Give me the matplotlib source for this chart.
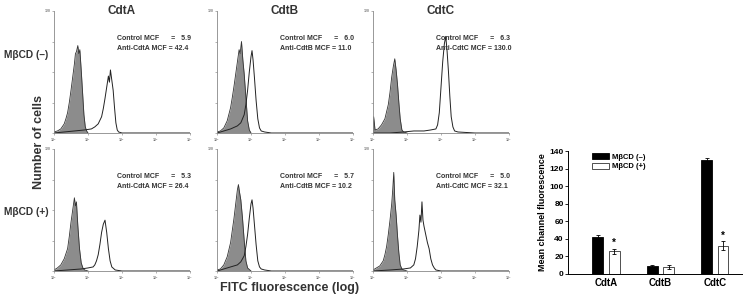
import numpy as np
import matplotlib.pyplot as plt

plt.rcParams['font.family'] = ['Liberation Sans', 'DejaVu Sans']
plt.rcParams['font.weight'] = 'bold'

# histogram curves: x in log10 decades, y = cell counts
ctrl_x_A1 = [0.0, 0.1, 0.2, 0.3, 0.35, 0.4, 0.45, 0.5, 0.55, 0.6, 0.63, 0.66, 0.7, 0.73, 0.76, 0.8, 0.84, 0.88, 0.92, 0.96, 1.0]
ctrl_y_A1 = [1, 2, 4, 9, 14, 20, 30, 42, 55, 68, 78, 80, 86, 78, 82, 62, 40, 18, 6, 2, 0]
anti_x_A1 = [0.0, 0.3, 0.6, 0.9, 1.1, 1.2, 1.3, 1.4, 1.45, 1.5, 1.55, 1.6, 1.63, 1.66, 1.7, 1.74, 1.78, 1.82, 1.86, 1.9, 2.0, 3.0, 4.0]
anti_y_A1 = [0, 1, 2, 3, 4, 6, 9, 16, 24, 34, 45, 56, 50, 62, 52, 42, 25, 10, 3, 1, 0, 0, 0]

ctrl_x_A2 = [0.0, 0.1, 0.2, 0.3, 0.4, 0.45, 0.5, 0.55, 0.6, 0.63, 0.66, 0.7, 0.75, 0.8, 0.85, 0.9, 1.0]
ctrl_y_A2 = [1, 3, 6, 12, 22, 34, 48, 60, 72, 64, 68, 45, 22, 8, 3, 1, 0]
anti_x_A2 = [0.0, 0.4, 0.8, 1.0, 1.15, 1.2, 1.25, 1.3, 1.35, 1.4, 1.45, 1.5, 1.55, 1.6, 1.65, 1.7, 1.8, 2.0, 3.0, 4.0]
anti_y_A2 = [0, 1, 2, 3, 4, 6, 10, 16, 26, 38, 46, 50, 38, 22, 10, 4, 1, 0, 0, 0]

ctrl_x_B1 = [0.0, 0.1, 0.2, 0.3, 0.4, 0.45, 0.5, 0.55, 0.6, 0.65, 0.68, 0.72, 0.76, 0.8, 0.85, 0.9, 0.95, 1.0]
ctrl_y_B1 = [1, 2, 5, 12, 25, 35, 46, 58, 70, 82, 78, 90, 72, 58, 35, 12, 3, 0]
anti_x_B1 = [0.0, 0.2, 0.4, 0.6, 0.7, 0.8, 0.85, 0.9, 0.95, 1.0, 1.03, 1.06, 1.1, 1.15, 1.2, 1.25, 1.3, 1.4, 1.6, 2.0, 4.0]
anti_y_B1 = [0, 2, 4, 7, 10, 18, 28, 42, 60, 75, 81, 72, 55, 32, 14, 5, 2, 1, 0, 0, 0]

ctrl_x_B2 = [0.0, 0.1, 0.2, 0.3, 0.4, 0.45, 0.5, 0.55, 0.6, 0.63, 0.66, 0.7, 0.75, 0.8, 0.85, 0.9, 1.0]
ctrl_y_B2 = [1, 2, 6, 14, 28, 40, 52, 66, 80, 85, 78, 70, 52, 30, 10, 3, 0]
anti_x_B2 = [0.0, 0.2, 0.4, 0.6, 0.7, 0.8, 0.85, 0.9, 0.95, 1.0, 1.03, 1.06, 1.1, 1.15, 1.2, 1.25, 1.3, 1.4, 1.6, 2.0, 4.0]
anti_y_B2 = [0, 2, 4, 6, 9, 15, 24, 36, 52, 66, 70, 62, 46, 26, 10, 4, 2, 1, 0, 0, 0]

ctrl_x_C1 = [0.0, 0.02, 0.06, 0.15, 0.25, 0.35, 0.45, 0.5, 0.55, 0.6, 0.64, 0.68, 0.72, 0.76, 0.8, 0.85, 0.9, 1.0]
ctrl_y_C1 = [0, 16, 3, 4, 8, 14, 28, 40, 55, 66, 73, 62, 48, 30, 14, 3, 1, 0]
anti_x_C1 = [0.0, 0.5, 0.9, 1.2, 1.5, 1.7, 1.85, 1.9, 1.95, 2.0, 2.05, 2.1, 2.14, 2.18, 2.22, 2.26, 2.3, 2.35, 2.4, 2.5, 3.0, 4.0]
anti_y_C1 = [0, 0, 1, 2, 2, 3, 4, 8, 20, 45, 70, 88, 95, 80, 60, 36, 16, 6, 2, 1, 0, 0]

ctrl_x_C2 = [0.0, 0.1, 0.2, 0.3, 0.35, 0.4, 0.45, 0.5, 0.55, 0.58, 0.61, 0.64, 0.68, 0.72, 0.76, 0.8, 0.85, 0.9, 1.0]
ctrl_y_C2 = [1, 3, 5, 10, 16, 24, 36, 50, 66, 80, 97, 70, 55, 35, 18, 6, 2, 1, 0]
anti_x_C2 = [0.0, 0.5, 0.9, 1.1, 1.2, 1.25, 1.3, 1.35, 1.38, 1.41, 1.44, 1.47, 1.5, 1.55, 1.6, 1.65, 1.7, 1.75, 1.8, 1.85, 2.0, 4.0]
anti_y_C2 = [0, 1, 2, 3, 6, 12, 24, 40, 55, 48, 68, 50, 44, 36, 28, 22, 12, 6, 3, 1, 0, 0]

mcf_ctrl = [['5.9', '6.0', '6.3'], ['5.3', '5.7', '5.0']]
mcf_anti = [['42.4', '11.0', '130.0'], ['26.4', '10.2', '32.1']]
proteins = ['CdtA', 'CdtB', 'CdtC']
rows = ['M\u03b2CD (\u2013)', 'M\u03b2CD (+)']

# bar chart
bar_cats = ['CdtA', 'CdtB', 'CdtC']
mcf_neg = [42, 9, 130]
mcf_neg_err = [2, 1, 2]
mcf_pos = [26, 8, 32]
mcf_pos_err = [3, 2, 5]

curves = [
    [(ctrl_x_A1, ctrl_y_A1, anti_x_A1, anti_y_A1),
     (ctrl_x_B1, ctrl_y_B1, anti_x_B1, anti_y_B1),
     (ctrl_x_C1, ctrl_y_C1, anti_x_C1, anti_y_C1)],
    [(ctrl_x_A2, ctrl_y_A2, anti_x_A2, anti_y_A2),
     (ctrl_x_B2, ctrl_y_B2, anti_x_B2, anti_y_B2),
     (ctrl_x_C2, ctrl_y_C2, anti_x_C2, anti_y_C2)],
]

W, H = 744, 295
fig = plt.figure(figsize=(W / 100, H / 100), dpi=100)


def rect(x0, y0, x1, y1):
    return [x0 / W, 1 - y1 / H, (x1 - x0) / W, (y1 - y0) / H]


lefts = [54, 217, 373]
tops = [11, 149]
for r in range(2):
    for c in range(3):
        ax = fig.add_axes(rect(lefts[c], tops[r], lefts[c] + 136, tops[r] + 122))
        cx, cy, ax_, ay = curves[r][c]
        cx = 10 ** np.array(cx)
        ax_ = 10 ** np.array(ax_)
        ax.fill_between(cx, cy, color='#8c8c8c', lw=0)
        ax.plot(cx, cy, color='#333333', lw=0.6)
        ax.plot(ax_, ay, color='#222222', lw=0.7)
        ax.set_xscale('log')
        ax.set_xlim(1, 1e4)
        ax.set_ylim(0, 120)
        ax.set_yticks([0, 30, 60, 90, 120])
        ax.set_yticklabels(['', '', '', '', '120'])
        ax.tick_params(labelsize=2.5, length=1.5, width=0.4, colors='#777777', pad=1)
        ax.minorticks_off()
        for s in ['top', 'right']:
            ax.spines[s].set_visible(False)
        for s in ['left', 'bottom']:
            ax.spines[s].set_color('#888888')
            ax.spines[s].set_linewidth(0.6)
        name = proteins[c]
        txt = ('Control MCF      =   ' + mcf_ctrl[r][c] + '\n'
               'Anti-' + name + ' MCF = ' + mcf_anti[r][c])
        ax.text(0.46, 0.80, txt, transform=ax.transAxes, fontsize=5,
                fontweight='bold', color='#333333', va='top', linespacing=1.45)
        if r == 0:
            ax.text(0.5, 1.0, name, transform=ax.transAxes, fontsize=8.5,
                    fontweight='bold', color='#333333', ha='center', va='center')

fig.text(4 / W, 1 - 55 / H, rows[0], fontsize=7.3, fontweight='bold', color='#333333',
         ha='left', va='center')
fig.text(4 / W, 1 - 212 / H, rows[1], fontsize=7.3, fontweight='bold', color='#333333',
         ha='left', va='center')
fig.text(39 / W, 1 - 142 / H, 'Number of cells', fontsize=9, fontweight='bold',
         color='#333333', rotation=90, ha='center', va='center')
fig.text(290 / W, 1 - 288 / H, 'FITC fluorescence (log)', fontsize=9, fontweight='bold',
         color='#333333', ha='center', va='center')

# bar chart
bx = fig.add_axes(rect(568, 151, 742, 274))
pos = np.arange(len(bar_cats))
bw = 0.2
bx.bar(pos - 0.15, mcf_neg, bw, yerr=mcf_neg_err, color='black', edgecolor='black',
       lw=0.6, error_kw=dict(lw=0.6, capsize=1.5, capthick=0.6), label=rows[0])
bx.bar(pos + 0.15, mcf_pos, bw, yerr=mcf_pos_err, color='white', edgecolor='#333333',
       lw=0.6, error_kw=dict(lw=0.6, capsize=1.5, capthick=0.6), label=rows[1])
for i in [0, 2]:
    bx.text(pos[i] + 0.15, mcf_pos[i] + mcf_pos_err[i] + 1, '*', ha='center', va='bottom',
            fontsize=7, fontweight='bold')
bx.set_xlim(-0.7, 2.5)
bx.set_ylim(0, 140)
bx.set_yticks(range(0, 141, 20))
bx.set_xticks(pos)
bx.set_xticklabels(bar_cats, fontsize=7, fontweight='bold')
bx.tick_params(axis='y', labelsize=6, length=2, width=0.6, pad=1)
bx.tick_params(axis='x', length=0, pad=3)
for lab in bx.get_yticklabels():
    lab.set_fontweight('bold')
bx.set_ylabel('Mean channel fluorescence', fontsize=6.5, fontweight='bold', labelpad=2)
for s in ['top', 'right']:
    bx.spines[s].set_visible(False)
for s in ['left', 'bottom']:
    bx.spines[s].set_linewidth(0.7)
bx.legend(loc='upper left', bbox_to_anchor=(0.1, 1.04), frameon=False,
          handlelength=2.2, handleheight=0.8, labelspacing=0.3, handletextpad=0.4,
          prop=dict(size=5.5, weight='bold'))

fig.savefig('out.png', dpi=100)
